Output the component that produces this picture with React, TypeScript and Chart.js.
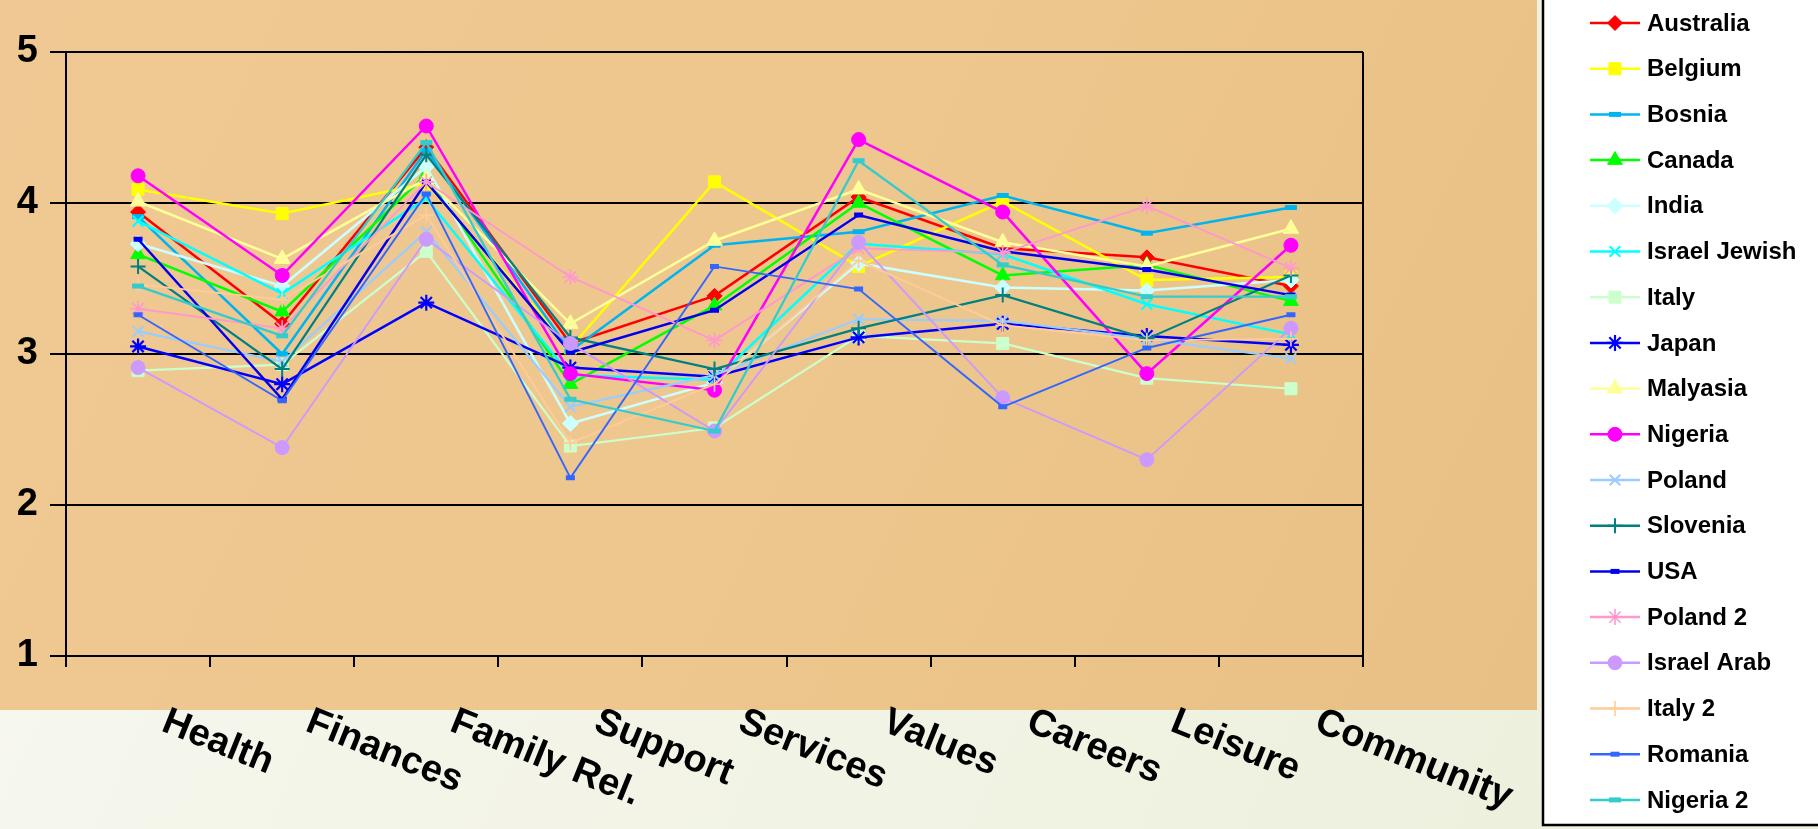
import React, { useEffect, useRef } from "react";
import { Chart, registerables } from "chart.js";
import { drawPoint } from "chart.js/helpers";

Chart.register(...registerables);

const categories = ["Health", "Finances", "Family Rel.", "Support", "Services", "Values", "Careers", "Leisure", "Community"];

const australia = [3.94, 3.2, 4.37, 3.07, 3.385, 4.04, 3.7, 3.64, 3.45];
const belgium = [4.09, 3.93, 4.13, 3.04, 4.14, 3.58, 4.01, 3.49, 3.51];
const bosnia = [3.91, 3.0, 4.35, 3.02, 3.72, 3.81, 4.05, 3.8, 3.97];
const canada = [3.66, 3.28, 4.19, 2.8, 3.32, 4.0, 3.52, 3.59, 3.35];
const india = [3.73, 3.45, 4.24, 2.54, 2.81, 3.6, 3.44, 3.42, 3.49];
const israelJewish = [3.88, 3.4, 4.03, 2.86, 2.83, 3.73, 3.66, 3.33, 3.13];
const italy = [2.89, 2.93, 3.68, 2.39, 2.51, 3.12, 3.07, 2.84, 2.77];
const japan = [3.05, 2.8, 3.34, 2.91, 2.85, 3.11, 3.2, 3.12, 3.06];
const malyasia = [4.01, 3.63, 4.16, 3.2, 3.75, 4.09, 3.74, 3.58, 3.83];
const nigeria = [4.18, 3.52, 4.51, 2.87, 2.76, 4.42, 3.94, 2.87, 3.72];
const poland = [3.15, 2.95, 3.81, 2.65, 2.86, 3.23, 3.22, 3.1, 2.97];
const slovenia = [3.58, 2.9, 4.32, 3.11, 2.9, 3.17, 3.39, 3.1, 3.52];
const usa = [3.76, 2.7, 4.14, 3.01, 3.29, 3.92, 3.68, 3.56, 3.39];
const poland2 = [3.3, 3.17, 4.14, 3.51, 3.09, 3.7, 3.67, 3.98, 3.57];
const israelArab = [2.91, 2.38, 3.76, 3.07, 2.49, 3.74, 2.71, 2.3, 3.17];
const italy2 = [3.46, 3.36, 3.92, 2.41, 2.8, 3.62, 3.19, 3.09, 3.1];
const romania = [3.26, 2.69, 4.06, 2.18, 3.58, 3.43, 2.65, 3.04, 3.26];
const nigeria2 = [3.45, 3.12, 4.4, 2.7, 2.49, 4.28, 3.59, 3.38, 3.38];

const yTicks = [1, 2, 3, 4, 5];

type S = { label: string; data: number[]; color: string; style: string; r: number; bw: number; lw: number };

const series: S[] = [
  { label: "Australia", data: australia, color: "#FF0000", style: "rectRot", r: 7.5, bw: 1, lw: 2.5 },
  { label: "Belgium", data: belgium, color: "#FFFF00", style: "rect", r: 8.5, bw: 1, lw: 2.5 },
  { label: "Bosnia", data: bosnia, color: "#00B4F0", style: "line", r: 6, bw: 5, lw: 2.5 },
  { label: "Canada", data: canada, color: "#00FF00", style: "triangle", r: 8.5, bw: 1, lw: 2.5 },
  { label: "India", data: india, color: "#CCFFFF", style: "rectRot", r: 8, bw: 1, lw: 2.5 },
  { label: "Israel Jewish", data: israelJewish, color: "#00FFFF", style: "crossRot", r: 7.5, bw: 2, lw: 2.5 },
  { label: "Italy", data: italy, color: "#CCFFCC", style: "rect", r: 8.5, bw: 1, lw: 2.2 },
  { label: "Japan", data: japan, color: "#0000FF", style: "star", r: 8, bw: 2.2, lw: 2.5 },
  { label: "Malyasia", data: malyasia, color: "#FFFF99", style: "triangle", r: 9, bw: 1, lw: 2.5 },
  { label: "Nigeria", data: nigeria, color: "#FF00FF", style: "circle", r: 7, bw: 1, lw: 2.5 },
  { label: "Poland", data: poland, color: "#99CCFF", style: "crossRot", r: 7.5, bw: 2, lw: 2.2 },
  { label: "Slovenia", data: slovenia, color: "#008080", style: "cross", r: 7.5, bw: 2, lw: 2.2 },
  { label: "USA", data: usa, color: "#0000EE", style: "line", r: 4.5, bw: 5, lw: 2.5 },
  { label: "Poland 2", data: poland2, color: "#FF99CC", style: "star", r: 8, bw: 1.6, lw: 1.9 },
  { label: "Israel Arab", data: israelArab, color: "#CC99FF", style: "circle", r: 7, bw: 1, lw: 1.9 },
  { label: "Italy 2", data: italy2, color: "#FFCC99", style: "cross", r: 7.5, bw: 1.6, lw: 1.9 },
  { label: "Romania", data: romania, color: "#3366FF", style: "line", r: 4.5, bw: 5, lw: 1.9 },
  { label: "Nigeria 2", data: nigeria2, color: "#33CCCC", style: "line", r: 6, bw: 5, lw: 2.3 },
];

const W = 1818;
const H = 829;
const FONT = "'Liberation Sans', Arial, sans-serif";

const bgPlugin = {
  id: "bgPlugin",
  beforeDraw(chart: any) {
    const ctx = chart.ctx;
    ctx.save();
    const cream = ctx.createLinearGradient(0, 0, W, H);
    cream.addColorStop(0, "#F8F8F0");
    cream.addColorStop(1, "#ECEFDB");
    ctx.fillStyle = cream;
    ctx.fillRect(0, 0, W, H);
    const orange = ctx.createLinearGradient(0, 0, 1537, 710);
    orange.addColorStop(0, "#EFC893");
    orange.addColorStop(0.5, "#EEC78E");
    orange.addColorStop(1, "#E8C085");
    ctx.fillStyle = orange;
    ctx.fillRect(0, 0, 1537, 710);
    // legend box
    ctx.fillStyle = "#FFFFFF";
    ctx.fillRect(1543, -5, W - 1543 + 5, 830);
    ctx.strokeStyle = "#000000";
    ctx.lineWidth = 2.5;
    ctx.strokeRect(1543, -5, W - 1543 + 10, 830);
    ctx.restore();
  },
  beforeDatasetsDraw(chart: any) {
    const { ctx, chartArea } = chart;
    ctx.save();
    ctx.strokeStyle = "#000";
    ctx.lineWidth = 2;
    ctx.beginPath();
    ctx.moveTo(chartArea.right, chartArea.top);
    ctx.lineTo(chartArea.right, chartArea.bottom);
    ctx.stroke();
    ctx.restore();
  },
  afterDraw(chart: any) {
    const ctx = chart.ctx;
    const xs = chart.scales.x;
    ctx.save();
    ctx.fillStyle = "#000";
    ctx.font = `bold 38px ${FONT}`;
    ctx.textAlign = "left";
    ctx.textBaseline = "top";
    categories.forEach((c, i) => {
      const px = xs.getPixelForValue(i);
      ctx.save();
      ctx.translate(px + 33, 703);
      ctx.rotate((22 * Math.PI) / 180);
      ctx.fillText(c, 0, 0);
      ctx.restore();
    });
    // legend
    series.forEach((s, i) => {
      const y = 23 + 45.7 * i;
      ctx.save();
      ctx.strokeStyle = s.color;
      ctx.lineWidth = 2.5;
      ctx.beginPath();
      ctx.moveTo(1590, y);
      ctx.lineTo(1640, y);
      ctx.stroke();
      ctx.fillStyle = s.color;
      ctx.strokeStyle = s.color;
      ctx.lineWidth = s.bw;
      drawPoint(ctx, { pointStyle: s.style, radius: s.r, rotation: 0, borderWidth: s.bw } as any, 1615, y);
      ctx.restore();
      ctx.fillStyle = "#000";
      ctx.font = `bold 24px ${FONT}`;
      ctx.textBaseline = "middle";
      ctx.textAlign = "left";
      ctx.fillText(s.label, 1647, y + 1);
    });
    ctx.restore();
  },
};

export default function App() {
  const ref = useRef<HTMLCanvasElement | null>(null);
  useEffect(() => {
    if (!ref.current) return;
    const n = series.length;
    const chart = new Chart(ref.current, {
      type: "line",
      data: {
        labels: categories,
        datasets: series.map((s, i) => ({
          label: s.label,
          data: s.data,
          borderColor: s.color,
          backgroundColor: s.color,
          borderWidth: s.lw,
          pointStyle: s.style as any,
          pointRadius: s.r,
          pointBackgroundColor: s.color,
          pointBorderColor: s.color,
          pointBorderWidth: s.bw,
          tension: 0,
          fill: false,
          order: n - i,
        })),
      },
      options: {
        animation: false,
        responsive: false,
        devicePixelRatio: 1,
        layout: { padding: { top: 52, right: 455, left: 0, bottom: 0 } },
        plugins: { legend: { display: false }, tooltip: { enabled: false } },
        scales: {
          x: {
            type: "category",
            offset: true,
            grid: { display: true, drawOnChartArea: false, drawTicks: true, tickLength: 11, color: "#000", lineWidth: 2, offset: true },
            border: { display: true, color: "#000", width: 2 },
            ticks: { display: false },
            afterFit: (s: any) => {
              s.height = H - 656;
            },
          },
          y: {
            min: yTicks[0],
            max: yTicks[yTicks.length - 1],
            afterBuildTicks: (s: any) => {
              s.ticks = yTicks.map((v) => ({ value: v }));
            },
            ticks: { stepSize: 1, color: "#000", font: { size: 38, weight: "bold", family: FONT }, padding: 12 },
            grid: { color: "#000", lineWidth: 2, tickLength: 16, drawTicks: true },
            border: { display: true, color: "#000", width: 2 },
            afterFit: (s: any) => {
              s.width = 66;
            },
          },
        },
      },
      plugins: [bgPlugin],
    });
    return () => chart.destroy();
  }, []);
  return (
    <div style={{ position: "fixed", left: 0, top: 0, width: W, height: H }}>
      <canvas ref={ref} width={W} height={H} style={{ display: "block", width: W, height: H }} />
    </div>
  );
}
